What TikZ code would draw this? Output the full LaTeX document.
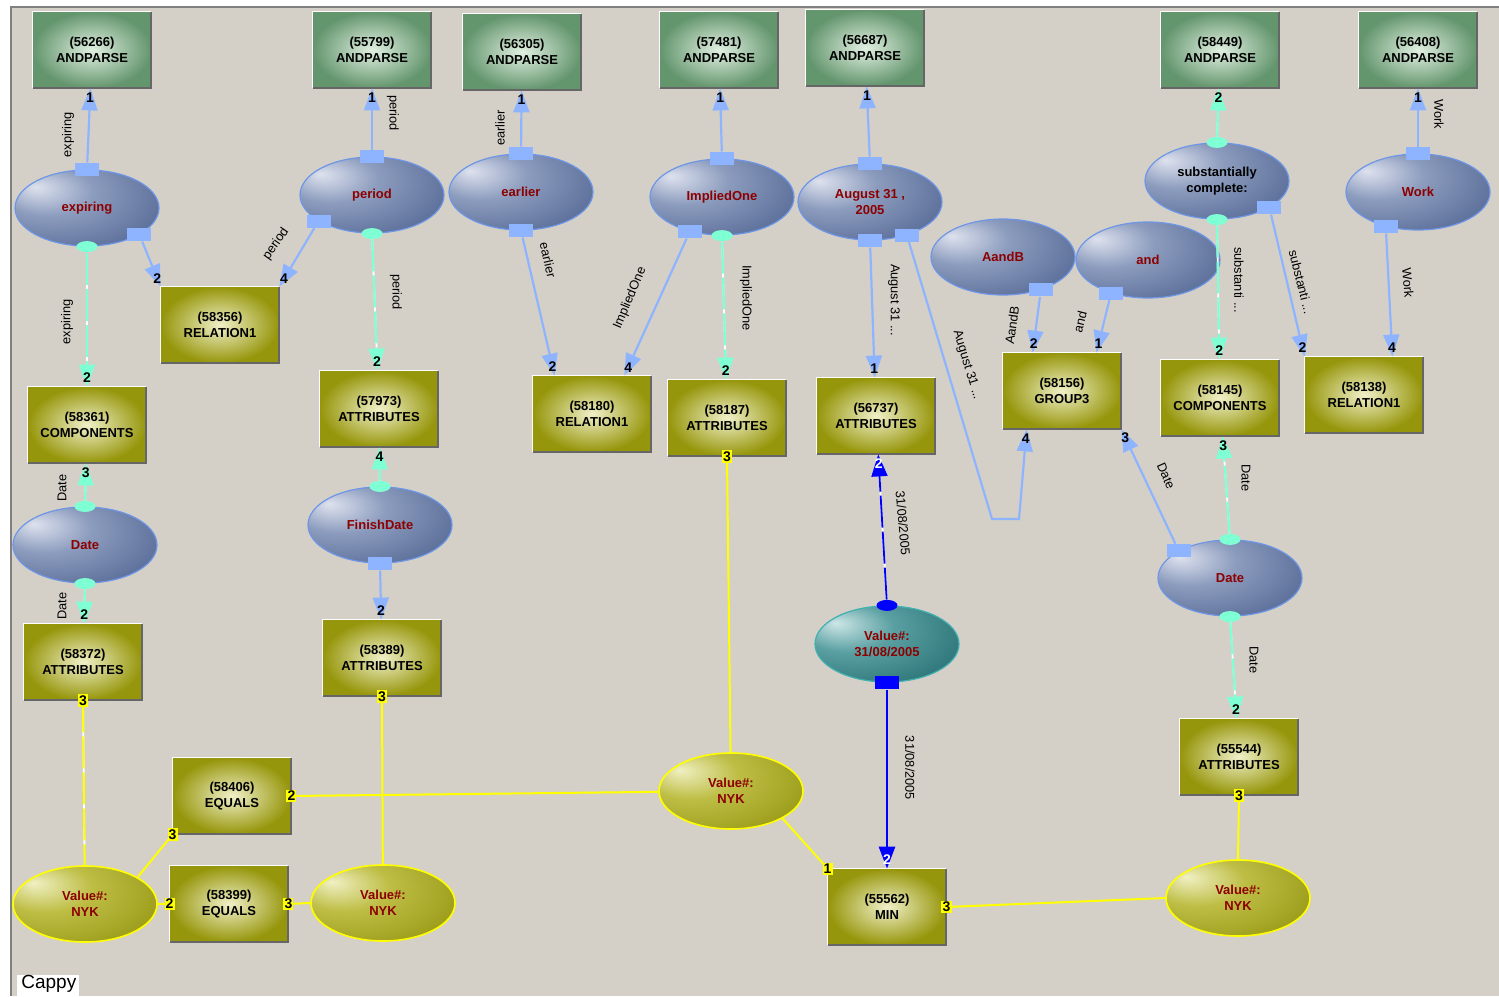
\documentclass[tikz,border=0pt]{standalone}
\usepackage{fontspec}
\setmainfont{Liberation Sans}
\usepackage{xcolor}
\usetikzlibrary{shapes.geometric, arrows.meta, decorations.markings}

\definecolor{canvas}{RGB}{212,208,200}
\definecolor{frameline}{RGB}{128,128,128}
\definecolor{linkblue}{RGB}{143,180,255}
\definecolor{linkaqua}{RGB}{127,255,212}
\definecolor{linkyellow}{RGB}{255,255,0}
\definecolor{linkdeep}{RGB}{0,0,255}
\definecolor{wordred}{RGB}{140,0,0}
\definecolor{andhi}{RGB}{225,240,225}
\definecolor{andlo}{RGB}{100,150,110}
\definecolor{opin}{RGB}{240,240,200}
\definecolor{opout}{RGB}{150,150,12}
\definecolor{ovhi}{RGB}{222,226,238}
\definecolor{ovmid}{RGB}{140,156,190}
\definecolor{ovlo}{RGB}{80,100,145}
\definecolor{ovrim}{RGB}{110,150,230}
\definecolor{tealhi}{RGB}{205,230,230}
\definecolor{tealmid}{RGB}{90,160,162}
\definecolor{teallo}{RGB}{36,108,112}
\definecolor{tealrim}{RGB}{64,176,176}
\definecolor{nykhi}{RGB}{240,240,196}
\definecolor{nykmid}{RGB}{190,190,70}
\definecolor{nyklo}{RGB}{148,148,16}

\pgfdeclareradialshading{wordshade}{\pgfpoint{-18bp}{14bp}}{color(0bp)=(ovhi); color(16bp)=(ovmid); color(42bp)=(ovlo); color(70bp)=(ovlo)}
\pgfdeclareradialshading{tealshade}{\pgfpoint{-18bp}{14bp}}{color(0bp)=(tealhi); color(16bp)=(tealmid); color(42bp)=(teallo); color(70bp)=(teallo)}
\pgfdeclareradialshading{nykshade}{\pgfpoint{-18bp}{14bp}}{color(0bp)=(nykhi); color(16bp)=(nykmid); color(42bp)=(nyklo); color(70bp)=(nyklo)}

% edges
\tikzstyle{blink} = [draw=linkblue, line width=1.1pt, -{Triangle[length=11pt,width=8pt]}]
\tikzstyle{alink} = [blink, draw=linkaqua]
\tikzstyle{dlink} = [blink, draw=linkdeep]
\tikzstyle{ylink} = [draw=linkyellow, line width=1pt]
\tikzstyle{broken} = [preaction={draw=white, line width=0.9pt, -, shorten >=10pt}, dash pattern=on 16pt off 2pt]

\tikzset{
  andbox/.style={rectangle, minimum width=59pt, minimum height=38pt, inner sep=1pt,
    inner color=andhi, outer color=andlo, align=center,
    font=\fontsize{6.5}{7.9}\selectfont\bfseries},
  opbox/.style={andbox, inner color=opin, outer color=opout},
  word/.style={ellipse, minimum width=72pt, minimum height=38pt, inner sep=0pt,
    shade, shading=wordshade, draw=ovrim, line width=0.6pt, text=wordred, align=center,
    font=\fontsize{6.5}{7.9}\selectfont\bfseries},
  dateval/.style={word, shading=tealshade, draw=tealrim},
  nyk/.style={word, shading=nykshade, draw=linkyellow, line width=0.8pt},
  sqport/.style={rectangle, fill=linkblue, minimum width=12pt, minimum height=6.5pt, inner sep=0pt},
  ovport/.style={ellipse, fill=linkaqua, minimum width=10.5pt, minimum height=5.5pt, inner sep=0pt},
  elab/.style={font=\fontsize{6.4}{7}\selectfont, inner sep=0pt},
  num/.style={font=\fontsize{7}{8}\selectfont\bfseries, inner sep=0pt},
  ynum/.style={num, fill=linkyellow, inner sep=0.6pt},
  tipnum/.style={postaction={decorate, decoration={markings,
    mark=at position -4.5pt with {\node[num] {#1};}}}},
  tipnumw/.style={postaction={decorate, decoration={markings,
    mark=at position -4.5pt with {\node[num, text=white] {#1};}}}},
}

\begin{document}
\begin{tikzpicture}[x=0.5pt, y=-0.5pt]
  % window
  \fill[white] (0,0) rectangle (1499,996);
  \useasboundingbox (0,0) rectangle (1499,996);
  \fill[canvas] (11,7) rectangle (1499,996);
  \draw[frameline, line width=1pt] (11,996) -- (11,7) -- (1499,7);

  % ANDPARSE boxes
  \node[andbox] (n56266) at (92,50) {(56266)\\ANDPARSE};
  \node[andbox] (n55799) at (372,50) {(55799)\\ANDPARSE};
  \node[andbox] (n56305) at (522,52) {(56305)\\ANDPARSE};
  \node[andbox] (n57481) at (719,50) {(57481)\\ANDPARSE};
  \node[andbox] (n56687) at (865,48) {(56687)\\ANDPARSE};
  \node[andbox] (n58449) at (1220,50) {(58449)\\ANDPARSE};
  \node[andbox] (n56408) at (1418,50) {(56408)\\ANDPARSE};

  % operator boxes
  \node[opbox] (n58356) at (220,325) {(58356)\\RELATION1};
  \node[opbox] (n58361) at (87,425) {(58361)\\COMPONENTS};
  \node[opbox] (n57973) at (379,409) {(57973)\\ATTRIBUTES};
  \node[opbox] (n58180) at (592,414) {(58180)\\RELATION1};
  \node[opbox] (n58187) at (727,418) {(58187)\\ATTRIBUTES};
  \node[opbox] (n56737) at (876,416) {(56737)\\ATTRIBUTES};
  \node[opbox] (n58156) at (1062,391) {(58156)\\GROUP3};
  \node[opbox] (n58145) at (1220,398) {(58145)\\COMPONENTS};
  \node[opbox] (n58138) at (1364,395) {(58138)\\RELATION1};
  \node[opbox] (n58372) at (83,662) {(58372)\\ATTRIBUTES};
  \node[opbox] (n58389) at (382,658) {(58389)\\ATTRIBUTES};
  \node[opbox] (n58406) at (232,796) {(58406)\\EQUALS};
  \node[opbox] (n58399) at (229,904) {(58399)\\EQUALS};
  \node[opbox] (n55544) at (1239,757) {(55544)\\ATTRIBUTES};
  \node[opbox] (n55562) at (887,907) {(55562)\\MIN};

  % bevel on every box
  \foreach \b in {n56266,n55799,n56305,n57481,n56687,n58449,n56408,n58356,n58361,n57973,
                  n58180,n58187,n56737,n58156,n58145,n58138,n58372,n58389,n58406,n58399,n55544,n55562} {
    \draw[white, line width=0.7pt] (\b.south west) |- (\b.north east);
    \draw[black!60, line width=1pt] (\b.south west) -| (\b.north east);
  }

  % word ellipses
  \node[word] (expiring) at (87,208) {expiring};
  \node[word] (period) at (372,195) {period};
  \node[word] (earlier) at (521,192) {earlier};
  \node[word] (implied) at (722,197) {ImpliedOne};
  \node[word] (august) at (870,202) {August 31 ,\\2005};
  \node[word] (aandb) at (1003,257) {AandB};
  \node[word] (andw) at (1148,260) {and};
  \node[word, text=black] (subst) at (1217,181) {substantially\\complete:};
  \node[word] (work) at (1418,192) {Work};
  \node[word] (dateL) at (85,545) {Date};
  \node[word] (finish) at (380,525) {FinishDate};
  \node[word] (dateR) at (1230,578) {Date};
  \node[dateval] (valdate) at (887,644) {Value\#:\\31/08/2005};
  \node[nyk] (nykA) at (85,904) {Value\#:\\NYK};
  \node[nyk] (nykB) at (383,903) {Value\#:\\NYK};
  \node[nyk] (nykC) at (731,791) {Value\#:\\NYK};
  \node[nyk] (nykD) at (1238,898) {Value\#:\\NYK};

  % ports
  \node[sqport] (expiring-up) at (expiring.north) {};
  \node[sqport] (expiring-rel) at (expiring.-27) {};
  \node[ovport] (expiring-dn) at (expiring.south) {};
  \node[sqport] (period-up) at (period.north) {};
  \node[sqport] (period-rel) at (period.206) {};
  \node[ovport] (period-dn) at (period.south) {};
  \node[sqport] (earlier-up) at (earlier.north) {};
  \node[sqport] (earlier-dn) at (earlier.south) {};
  \node[sqport] (implied-up) at (implied.north) {};
  \node[sqport] (implied-rel) at (implied.227) {};
  \node[ovport] (implied-dn) at (implied.south) {};
  \node[sqport] (august-up) at (august.north) {};
  \node[sqport] (august-dn) at (august.south) {};
  \node[sqport] (august-grp) at (august.-42) {};
  \node[sqport] (aandb-grp) at (aandb.-41) {};
  \node[sqport] (andw-grp) at (andw.222) {};
  \node[ovport] (subst-up) at (subst.north) {};
  \node[ovport] (subst-dn) at (subst.south) {};
  \node[sqport] (subst-rel) at (subst.-27) {};
  \node[sqport] (work-up) at (work.north) {};
  \node[sqport] (work-rel) at (work.227) {};
  \node[ovport] (dateL-up) at (dateL.north) {};
  \node[ovport] (dateL-dn) at (dateL.south) {};
  \node[ovport] (finish-up) at (finish.north) {};
  \node[sqport] (finish-dn) at (finish.south) {};
  \node[sqport] (dateR-grp) at (dateR.152) {};
  \node[ovport] (dateR-up) at (dateR.north) {};
  \node[ovport] (dateR-dn) at (dateR.south) {};
  \node[ovport, fill=linkdeep] (valdate-up) at (valdate.north) {};
  \node[sqport, fill=linkdeep] (valdate-dn) at (valdate.south) {};

  \coordinate (bendA) at (992,519);
  \coordinate (bendB) at (1019,519);

  % light blue links
  \draw[blink, tipnum=1] (expiring-up) -- (n56266);
  \draw[blink, tipnum=2] (expiring-rel) -- (n58356.north west);
  \draw[blink, tipnum=1] (period-up) -- (n55799);
  \draw[blink, tipnum=4] (period-rel) -- (n58356.north east);
  \draw[blink, tipnum=1] (earlier-up) -- (n56305);
  \draw[blink, tipnum=2] (earlier-dn) -- ([xshift=11pt]n58180.north west);
  \draw[blink, tipnum=1] (implied-up) -- (n57481);
  \draw[blink, tipnum=4] (implied-rel) -- ([xshift=-13.5pt]n58180.north east);
  \draw[blink, tipnum=1] (august-up) -- (n56687);
  \draw[blink, tipnum=1] (august-dn) -- (n56737);
  \draw[blink, tipnum=4] (august-grp) -- (bendA) -- (bendB) -- ([xshift=12pt]n58156.south west);
  \draw[blink, tipnum=2] (aandb-grp) -- ([xshift=15pt]n58156.north west);
  \draw[blink, tipnum=1] (andw-grp) -- ([xshift=-12.5pt]n58156.north east);
  \draw[blink, tipnum=3] (dateR-grp) -- (n58156.south east);
  \draw[blink, tipnum=2] (subst-rel) -- (n58138.north west);
  \draw[blink, tipnum=1] (work-up) -- (n56408);
  \draw[blink, tipnum=4] (work-rel) -- ([xshift=-15.5pt]n58138.north east);
  \draw[blink, tipnum=2] (finish-dn) -- (n58389);

  % aqua links
  \draw[alink, broken, tipnum=2] (period-dn) -- (n57973);
  \draw[alink, broken, tipnum=2] (implied-dn) -- (n58187);
  \draw[alink, broken, tipnum=2] (subst-up) -- (n58449);
  \draw[alink, broken, tipnum=2] (subst-dn) -- (n58145);
  \draw[alink, broken, tipnum=3] (dateR-up) -- (n58145);
  \draw[alink, broken, tipnum=2] (dateR-dn) -- (n55544);
  \draw[alink, broken, tipnum=2] (expiring-dn) -- (n58361);
  \draw[alink, broken, tipnum=3] (dateL-up) -- (n58361);
  \draw[alink, broken, tipnum=2] (dateL-dn) -- (n58372);
  \draw[alink, broken, tipnum=4] (finish-up) -- (n57973);

  % date value links
  \draw[dlink, line width=0.9pt, broken, tipnumw=2] (valdate-up) -- (n56737);
  \draw[dlink, line width=1.4pt, tipnumw=2] (valdate-dn) -- (n55562);

  % yellow links
  \draw[ylink, broken] (n58372.south) node[ynum] {3} -- (nykA);
  \draw[ylink] (n58389.south) node[ynum] {3} -- (nykB);
  \draw[ylink] (n58187.south) node[ynum] {3} -- (nykC);
  \draw[ylink] (n58406.east) node[ynum] {2} -- (nykC);
  \draw[ylink] (n58406.south west) node[ynum] {3} -- (nykA.27);
  \draw[ylink] (n58399.west) node[ynum] {2} -- (nykA.east);
  \draw[ylink] (n58399.east) node[ynum] {3} -- (nykB.west);
  \draw[ylink] (nykC.-28) -- (n55562.north west) node[ynum] {1};
  \draw[ylink] (n55562.east) node[ynum] {3} -- (nykD.west);
  \draw[ylink] (n55544.south) node[ynum] {3} -- (nykD.north);

  % link captions
  \node[elab, rotate=90] (c1) at (68,135) {expiring};
  \node[elab, rotate=-90] (c2) at (393,113) {period};
  \node[elab, rotate=90] (c3) at (500,128) {earlier};
  \node[elab, rotate=55] (c4) at (276,244) {period};
  \node[elab, rotate=-90] (c5) at (396,292) {period};
  \node[elab, rotate=-77] (c6) at (548,260) {earlier};
  \node[elab, rotate=67] (c7) at (630,298) {ImpliedOne};
  \node[elab, rotate=-90] (c8) at (746,298) {ImpliedOne};
  \node[elab, rotate=-90] (c9) at (894,300) {August 31 ...};
  \node[elab, rotate=-73] (c10) at (967,365) {August 31 ...};
  \node[elab, rotate=82] (c11) at (1012,325) {AandB};
  \node[elab, rotate=76] (c12) at (1080,322) {and};
  \node[elab, rotate=-90] (c13) at (1239,280) {substanti ...};
  \node[elab, rotate=-76] (c14) at (1301,282) {substanti ...};
  \node[elab, rotate=-90] (c15) at (1439,114) {Work};
  \node[elab, rotate=-85] (c16) at (1408,283) {Work};
  \node[elab, rotate=90] (c17) at (67,322) {expiring};
  \node[elab, rotate=90] (c18) at (62,488) {Date};
  \node[elab, rotate=90] (c19) at (62,606) {Date};
  \node[elab, rotate=-66] (c20) at (1166,476) {Date};
  \node[elab, rotate=-90] (c21) at (1246,478) {Date};
  \node[elab, rotate=-90] (c22) at (1254,660) {Date};
  \node[elab, rotate=-85] (c23) at (903,523) {31/08/2005};
  \node[elab, rotate=-90] (c24) at (910,768) {31/08/2005};

  % status caption
  \fill[white] (17,975) rectangle (79,996);
  \node[font=\fontsize{9.5}{11}\selectfont, anchor=south west, inner sep=1pt] (cappy) at (19,995) {Cappy};
\end{tikzpicture}
\end{document}
